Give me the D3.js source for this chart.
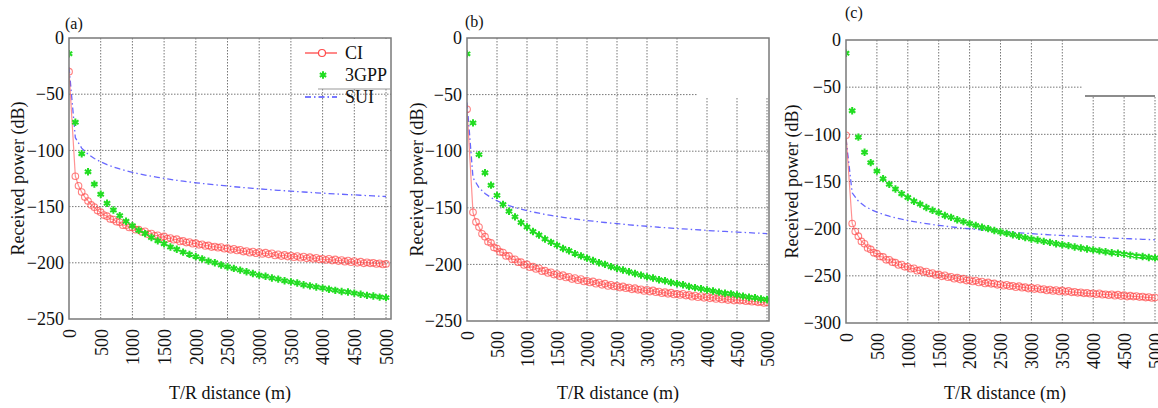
<!DOCTYPE html>
<html>
<head>
<meta charset="utf-8">
<script src="https://cdn.jsdelivr.net/npm/d3@7"></script>
<style>
  body { margin: 0; background: #fff; }
  svg { display: block; }
  svg text { font-family: "Liberation Serif", "DejaVu Serif", "Times New Roman", serif; }
</style>
</head>
<body>
<svg id="main" width="1158" height="408"></svg>
<script>
// ---- data ----
const xTicks = [0, 500, 1000, 1500, 2000, 2500, 3000, 3500, 4000, 4500, 5000];
const yTicksAB = [0, -50, -100, -150, -200, -250];
const yTicksC = [0, -50, -100, -150, -200, -250, -300];
const panelNames = ["(a)", "(b)", "(c)"];
const legendNames = ["CI", "3GPP", "SUI"];

// distances (m): CI is sampled every 50 m, 3GPP and SUI every 100 m
const ciDist = [1].concat(d3.range(100, 5001, 50));
const stepDist = [1].concat(d3.range(100, 5001, 100));

// 3GPP is the same in all three panels
const gppVals = [-14, -75, -103, -119, -130, -139, -147, -153, -158, -163, -167,
  -171, -174, -177.5, -180.5, -183, -186, -188, -190.5, -192.5, -194.5,
  -196.5, -198.5, -200, -202, -203.5, -205, -206.5, -208, -209.5, -211,
  -212, -213.5, -214.5, -216, -217, -218, -219.5, -220.5, -221.5, -222.5,
  -223.5, -224.5, -225.5, -226, -227, -228, -229, -229.5, -230.5, -231];

const ciA = [-30, -123, -131.5, -137, -141.5, -145, -148.5, -150.5, -153.5, -155,
  -157.5, -158.5, -161, -161.5, -163.5, -164, -166.5, -166.5, -168.5, -168.5,
  -170.5, -170.5, -172.5, -172, -174.5, -174, -176, -175.5, -177.5, -176.5,
  -178.5, -178, -179.5, -179, -181, -180.5, -182, -181.5, -183, -182.5,
  -184, -183.5, -185, -184.5, -186, -185.5, -186.5, -186, -187.5, -187,
  -188.5, -187.5, -189, -188.5, -190, -189.5, -191, -190, -191.5, -190.5,
  -192, -191, -192.5, -191.5, -193.5, -192.5, -194, -193, -194.5, -193.5,
  -195, -194, -195.5, -194.5, -196, -195, -196.5, -195.5, -197, -196.5,
  -197.5, -196.5, -198, -197, -198.5, -197.5, -199, -198, -199.5, -198.5,
  -200, -199, -200.5, -199.5, -200.5, -200, -201, -200.5, -201.5, -201];

const ciB = [-63, -154, -162.5, -167, -173, -175.5, -180, -181, -185, -186,
  -189, -189.5, -192.5, -192.5, -195.5, -195.5, -198, -198, -200.5, -200,
  -202.5, -202, -204, -203.5, -206, -205.5, -207.5, -207, -209, -208.5,
  -210.5, -209.5, -211.5, -211, -213, -212, -214, -213, -215, -214.5,
  -216, -215, -217, -216, -218, -217, -219, -218, -219.5, -219,
  -220.5, -219.5, -221, -220.5, -222, -221, -222.5, -222, -223.5, -222.5,
  -224, -223, -224.5, -224, -225.5, -224.5, -226, -225, -226.5, -226,
  -227, -226, -227.5, -227, -228.5, -227.5, -229, -228, -229.5, -228.5,
  -230, -229, -230.5, -229.5, -231, -230, -231.5, -230.5, -232, -231,
  -232, -231.5, -232.5, -232, -233, -232.5, -233.5, -233, -234, -233.5];

const ciC = [-101, -194.5, -203, -208, -213.5, -216, -220.5, -222, -225.5, -226.5,
  -229.5, -230, -233, -233, -235.5, -236, -238.5, -238, -240.5, -240.5,
  -242.5, -242, -244.5, -244, -246, -245.5, -247.5, -247, -249, -248.5,
  -250.5, -249.5, -251.5, -251, -253, -252, -254, -253, -255, -254.5,
  -256, -255, -257, -256, -258, -257, -258.5, -258, -259.5, -259,
  -260.5, -259.5, -261, -260.5, -262, -261, -262.5, -262, -263.5, -262.5,
  -264, -263, -264.5, -264, -265.5, -264.5, -266, -265, -266.5, -265.5,
  -267, -266, -267.5, -267, -268, -267.5, -268.5, -268, -269, -268.5,
  -269.5, -268.5, -270, -269.5, -270.5, -269.5, -271, -270, -271.5, -270.5,
  -272, -271, -272, -271.5, -272.5, -272, -273, -272.5, -273.5, -273];

const suiA = [-26, -88.7, -98, -103.4, -107.2, -110.2, -112.7, -114.7, -116.5, -118.1, -119.5,
  -120.8, -121.9, -123, -124, -124.9, -125.8, -126.6, -127.4, -128.1, -128.8,
  -129.4, -130, -130.6, -131.2, -131.7, -132.3, -132.8, -133.3, -133.7, -134.2,
  -134.6, -135.1, -135.5, -135.9, -136.3, -136.6, -137, -137.4, -137.7, -138,
  -138.4, -138.7, -139, -139.3, -139.6, -139.9, -140.2, -140.5, -140.8, -141];

const suiB = [-57, -123.5, -132.2, -137.3, -141, -143.8, -146.1, -148, -149.7, -151.2, -152.5,
  -153.7, -154.8, -155.8, -156.7, -157.6, -158.4, -159.2, -159.9, -160.6, -161.2,
  -161.8, -162.4, -163, -163.5, -164, -164.5, -165, -165.5, -165.9, -166.3,
  -166.7, -167.2, -167.5, -167.9, -168.3, -168.6, -169, -169.3, -169.6, -170,
  -170.3, -170.6, -170.9, -171.2, -171.4, -171.7, -172, -172.3, -172.5, -172.8];

const suiC = [-105, -162, -170.8, -176, -179.6, -182.5, -184.8, -186.8, -188.5, -190, -191.3,
  -192.5, -193.6, -194.6, -195.6, -196.5, -197.3, -198.1, -198.8, -199.5, -200.1,
  -200.7, -201.3, -201.9, -202.4, -203, -203.5, -203.9, -204.4, -204.8, -205.3,
  -205.7, -206.1, -206.5, -206.9, -207.2, -207.6, -207.9, -208.3, -208.6, -208.9,
  -209.3, -209.6, -209.9, -210.2, -210.4, -210.7, -211, -211.3, -211.5, -211.8];

// ---- layout ----
const FONT = '"Liberation Serif", "DejaVu Serif", "Times New Roman", serif';
const svg = d3.select('svg#main');
const colors = {ci: "#ff4a4a", gpp: "#22dd22", sui: "#4c4cff"};
const gridColor = "#777";

const panels = [
  {ci: ciA, sui: suiA, yTicks: yTicksAB, left: 69, right: 391, xEnd: 386, top: 38, bottom: 319,
   labelX: 65, labelY: 29, titleX: 18, legend: true},
  {ci: ciB, sui: suiB, yTicks: yTicksAB, left: 467, right: 769, xEnd: 767, top: 38, bottom: 321,
   labelX: 465, labelY: 27, titleX: 417, cover: [697, 38, 72, 59]},
  {ci: ciC, sui: suiC, yTicks: yTicksC, left: 846, right: 1164, xEnd: 1155, top: 40, bottom: 323,
   labelX: 845, labelY: 18, titleX: 792, cover: [1083, 40, 81, 56], coverLine: 96}
];

const star = d3.symbol().type(d3.symbolAsterisk).size(38);

function txt(sel, size) {
  return sel.style('font-family', FONT).style('font-size', size + 'px').attr('fill', '#111');
}

function drawPanel(p, i) {
  const g = svg.append('g');
  const x = d3.scaleLinear().domain([0, 5000]).range([p.left, p.xEnd]);
  const y = d3.scaleLinear().domain([d3.min(p.yTicks), 0]).range([p.bottom, p.top]);

  const clipId = 'clip' + i;
  g.append('clipPath').attr('id', clipId).append('rect')
    .attr('x', p.left).attr('y', p.top)
    .attr('width', p.right - p.left).attr('height', p.bottom - p.top);

  // dotted grid
  g.append('g').selectAll('line').data(xTicks.slice(1)).join('line')
    .attr('x1', d => x(d)).attr('x2', d => x(d))
    .attr('y1', p.top).attr('y2', p.bottom)
    .attr('stroke', gridColor).attr('stroke-dasharray', '1.5,1.5');
  g.append('g').selectAll('line').data(p.yTicks.slice(1, -1)).join('line')
    .attr('x1', p.left).attr('x2', p.right)
    .attr('y1', d => y(d)).attr('y2', d => y(d))
    .attr('stroke', gridColor).attr('stroke-dasharray', '1.5,1.5');

  // white patches left over from the legend in (b) and (c)
  if (p.cover) {
    g.append('rect').attr('x', p.cover[0]).attr('y', p.cover[1])
      .attr('width', p.cover[2]).attr('height', p.cover[3]).attr('fill', '#fff');
  }
  if (p.coverLine) {
    g.append('line').attr('x1', p.cover[0] + 2).attr('x2', 1155)
      .attr('y1', p.coverLine).attr('y2', p.coverLine)
      .attr('stroke', '#666').attr('stroke-width', 1.5);
  }

  const plot = g.append('g').attr('clip-path', `url(#${clipId})`);

  const ciData = ciDist.map((d, k) => ({d: d, v: p.ci[k]}));
  const suiData = stepDist.map((d, k) => ({d: d, v: p.sui[k]}));
  const gppData = stepDist.map((d, k) => ({d: d, v: gppVals[k]}));
  const line = d3.line().x(d => x(d.d)).y(d => y(d.v));

  // SUI dash-dot
  plot.append('path').datum(suiData).attr('d', line)
    .attr('fill', 'none').attr('stroke', colors.sui).attr('stroke-width', 1.3)
    .attr('stroke-opacity', 0.85).attr('stroke-dasharray', '6,3,1.5,3');

  // CI line + open circles
  plot.append('path').datum(ciData).attr('d', line)
    .attr('fill', 'none').attr('stroke', colors.ci).attr('stroke-width', 1.2)
    .attr('stroke-opacity', 0.6);
  plot.append('g').selectAll('circle').data(ciData).join('circle')
    .attr('cx', d => x(d.d)).attr('cy', d => y(d.v)).attr('r', 3.3)
    .attr('fill', 'none').attr('stroke', colors.ci).attr('stroke-width', 1.1)
    .attr('stroke-opacity', 0.7);

  // 3GPP asterisks
  plot.append('g').selectAll('path').data(gppData).join('path')
    .attr('transform', d => `translate(${x(d.d)},${y(d.v)})`)
    .attr('d', star).attr('fill', colors.gpp)
    .attr('stroke', colors.gpp).attr('stroke-width', 2);

  // frame
  g.append('rect').attr('x', p.left).attr('y', p.top)
    .attr('width', p.right - p.left).attr('height', p.bottom - p.top)
    .attr('fill', 'none').attr('stroke', '#7a7a7a').attr('stroke-width', 1.5);

  // axes (labels only)
  const yAxis = g.append('g').attr('transform', `translate(${p.left},0)`)
    .call(d3.axisLeft(y).tickValues(p.yTicks).tickFormat(d3.format('d')).tickSize(0).tickPadding(5));
  const xAxis = g.append('g').attr('transform', `translate(0,${p.bottom})`)
    .call(d3.axisBottom(x).tickValues(xTicks).tickFormat(d3.format('d')).tickSize(0));
  [yAxis, xAxis].forEach(a => {
    a.select('.domain').remove();
    a.attr('font-family', null).attr('font-size', null);
    txt(a.selectAll('text'), 18);
  });
  xAxis.selectAll('text')
    .attr('transform', 'rotate(-90)')
    .attr('x', -10).attr('y', 0).attr('dy', '0.35em')
    .attr('text-anchor', 'end');

  // titles
  txt(g.append('text'), 18).attr('x', (p.left + p.right) / 2).attr('y', 399)
    .attr('text-anchor', 'middle')
    .text('T/R distance (m)');
  txt(g.append('text'), 18)
    .attr('transform', `translate(${p.titleX},${(p.top + p.bottom) / 2}) rotate(-90)`)
    .attr('text-anchor', 'middle').attr('dy', '0.35em')
    .text('Received power (dB)');
  txt(g.append('text'), 16).attr('x', p.labelX).attr('y', p.labelY)
    .text(panelNames[i]);

  if (p.legend) {
    const lx = p.right - 88;
    const lg = g.append('g');
    lg.append('rect').attr('x', lx).attr('y', p.top + 1)
      .attr('width', p.right - lx - 1).attr('height', 50).attr('fill', '#fff');
    lg.append('line').attr('x1', lx + 15).attr('x2', p.right)
      .attr('y1', 89).attr('y2', 89).attr('stroke', '#999');
    const rows = [53, 75, 97];
    // CI
    lg.append('line').attr('x1', lx + 2).attr('x2', lx + 34).attr('y1', rows[0]).attr('y2', rows[0])
      .attr('stroke', colors.ci).attr('stroke-width', 1.3);
    lg.append('circle').attr('cx', lx + 19).attr('cy', rows[0]).attr('r', 3.5)
      .attr('fill', '#fff').attr('stroke', colors.ci).attr('stroke-width', 1.2);
    // 3GPP
    lg.append('path').attr('transform', `translate(${lx + 20},${rows[1]})`)
      .attr('d', star).attr('fill', colors.gpp).attr('stroke', colors.gpp).attr('stroke-width', 2);
    // SUI
    lg.append('line').attr('x1', lx + 2).attr('x2', lx + 34).attr('y1', rows[2]).attr('y2', rows[2])
      .attr('stroke', colors.sui).attr('stroke-width', 1.3).attr('stroke-dasharray', '6,3,1.5,3');
    txt(lg.selectAll('text.leg').data(legendNames).join('text').attr('class', 'leg'), 18)
      .attr('x', lx + 42).attr('y', (d, k) => rows[k]).attr('dy', '0.35em')
      .text(d => d);
  }
}

panels.forEach(drawPanel);
</script>
</body>
</html>
